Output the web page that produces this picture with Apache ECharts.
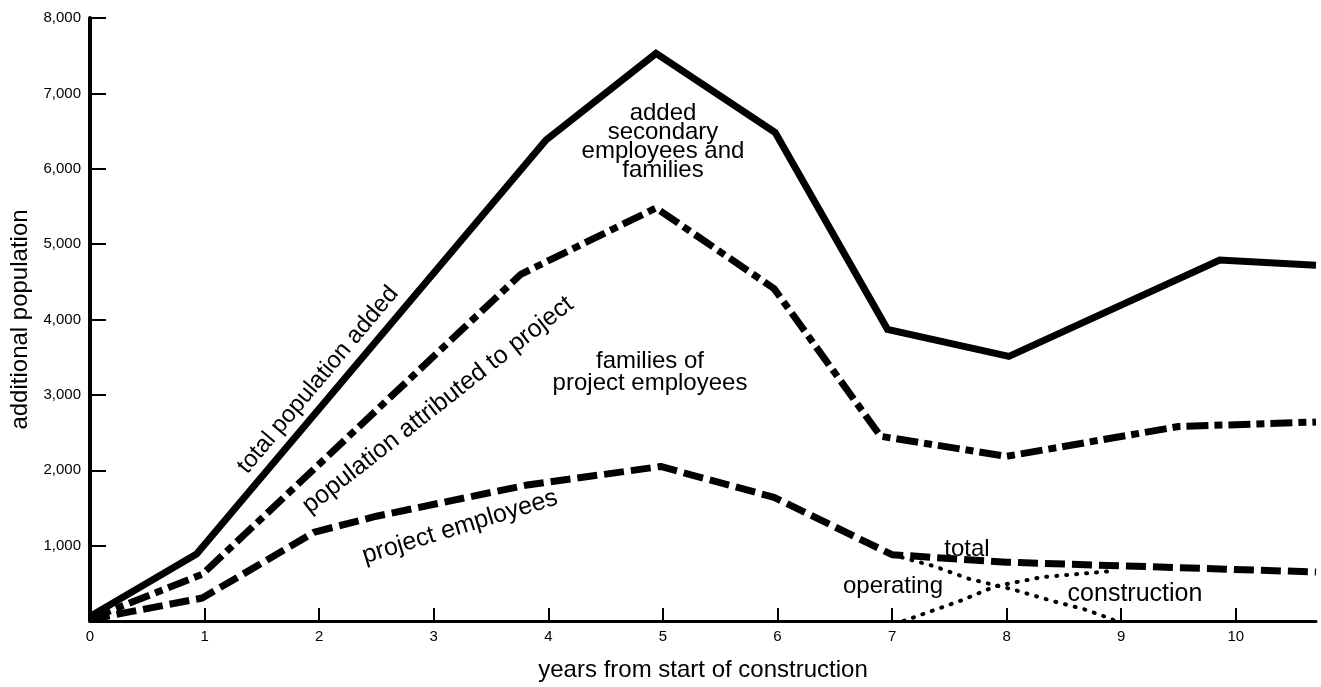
<!DOCTYPE html>
<html>
<head>
<meta charset="utf-8">
<script src="https://cdn.jsdelivr.net/npm/echarts@6/dist/echarts.min.js"></script>
<style>html,body{margin:0;padding:0;background:#fff}#c{width:1321px;height:687px}</style>
</head>
<body>
<div id="c"></div>
<script>
// x = years from start of construction, y = additional population
var totalPopulation = [[0,60],[0.93,890],[3.98,6380],[4.94,7530],[5.98,6480],[6.96,3870],[8.02,3510],[9.86,4790],[10.7,4720]];
var attributedToProject = [[0,30],[0.98,620],[3.76,4600],[4.94,5480],[5.97,4410],[6.90,2450],[8.0,2185],[9.5,2580],[10.7,2640]];
var projectEmployees = [[0,20],[0.98,305],[1.96,1180],[2.5,1390],[3.8,1800],[4.98,2050],[5.97,1640],[7.0,880],[8.0,780],[10.7,650]];
var operatingEmployees = [[7.1,0],[7.6,270],[7.9,460],[8.3,580],[8.9,660]];
var constructionEmployees = [[7.0,880],[7.36,730],[7.67,560],[8.05,420],[8.4,265],[8.67,160],[8.91,30],[8.95,0]];
var xTicks = [0,1,2,3,4,5,6,7,8,9,10];
var yTicks = [0,1000,2000,3000,4000,5000,6000,7000,8000];

var FONT = 'Liberation Sans';
var chart = echarts.init(document.getElementById('c'), null, {renderer:'canvas'});
function lbl(text, x, y, deg, size, lh){
  return {type:'text', x:x, y:y, rotation: (deg||0)*Math.PI/180, z:100,
    style:{text:text, x:0, y:0, fill:'#000', font:(size||24)+'px "'+FONT+'"', textAlign:'center', textVerticalAlign:'middle', lineHeight: lh||24}};
}
function fmt(v){ return v===0 ? '' : String(v).replace(/\B(?=(\d{3})+(?!\d))/g, ','); }
chart.setOption({
  backgroundColor:'#fff',
  animation:false,
  grid:{left:88, right:5, top:18, bottom:65},
  xAxis:{type:'value', min:0, max:10.7,
    name:'years from start of construction', nameLocation:'middle', nameGap:37,
    nameTextStyle:{fontFamily:FONT, fontSize:24, color:'#000'},
    axisLine:{show:true, lineStyle:{color:'#000', width:3}},
    axisTick:{show:true, inside:true, length:13, lineStyle:{color:'#000', width:2}, customValues:xTicks},
    axisLabel:{color:'#000', fontFamily:FONT, fontSize:15, margin:8, customValues:xTicks},
    splitLine:{show:false}},
  yAxis:{type:'value', min:0, max:8000, interval:1000,
    name:'additional population', nameLocation:'middle', nameGap:58,
    nameTextStyle:{fontFamily:FONT, fontSize:24, color:'#000'},
    axisLine:{show:true, lineStyle:{color:'#000', width:4}},
    axisTick:{show:true, inside:true, length:16, lineStyle:{color:'#000', width:2}},
    axisLabel:{color:'#000', fontFamily:FONT, fontSize:15, margin:9, formatter:fmt},
    splitLine:{show:false}},
  series:[
    {type:'line', data:operatingEmployees, showSymbol:false, z:2,
      lineStyle:{color:'#000', width:4, type:[1,9], cap:'round'}},
    {type:'line', data:constructionEmployees, showSymbol:false, z:2,
      lineStyle:{color:'#000', width:4, type:[1,9], cap:'round'}},
    {type:'line', data:projectEmployees, showSymbol:false, z:3,
      lineStyle:{color:'#000', width:7, type:[20,7], cap:'butt'}},
    {type:'line', data:attributedToProject, showSymbol:false, z:3,
      lineStyle:{color:'#000', width:7, type:[22,6,8,6], cap:'butt'}},
    {type:'line', data:totalPopulation, showSymbol:false, z:4,
      lineStyle:{color:'#000', width:7, type:'solid', join:'miter'}}
  ],
  graphic:[
    lbl('total population added', 318, 380, 50, 24),
    lbl('population attributed to project', 438, 405, 38, 25),
    lbl('project employees', 460, 527, 17, 25),
    lbl('added\nsecondary\nemployees and\nfamilies', 663, 142, 0, 24, 19),
    lbl('families of\nproject employees', 650, 372, 0, 24, 22),
    lbl('total', 967, 549, 0, 24),
    lbl('operating', 893, 586, 0, 24),
    lbl('construction', 1135, 594, 0, 25)
  ]
});
</script>
</body>
</html>
